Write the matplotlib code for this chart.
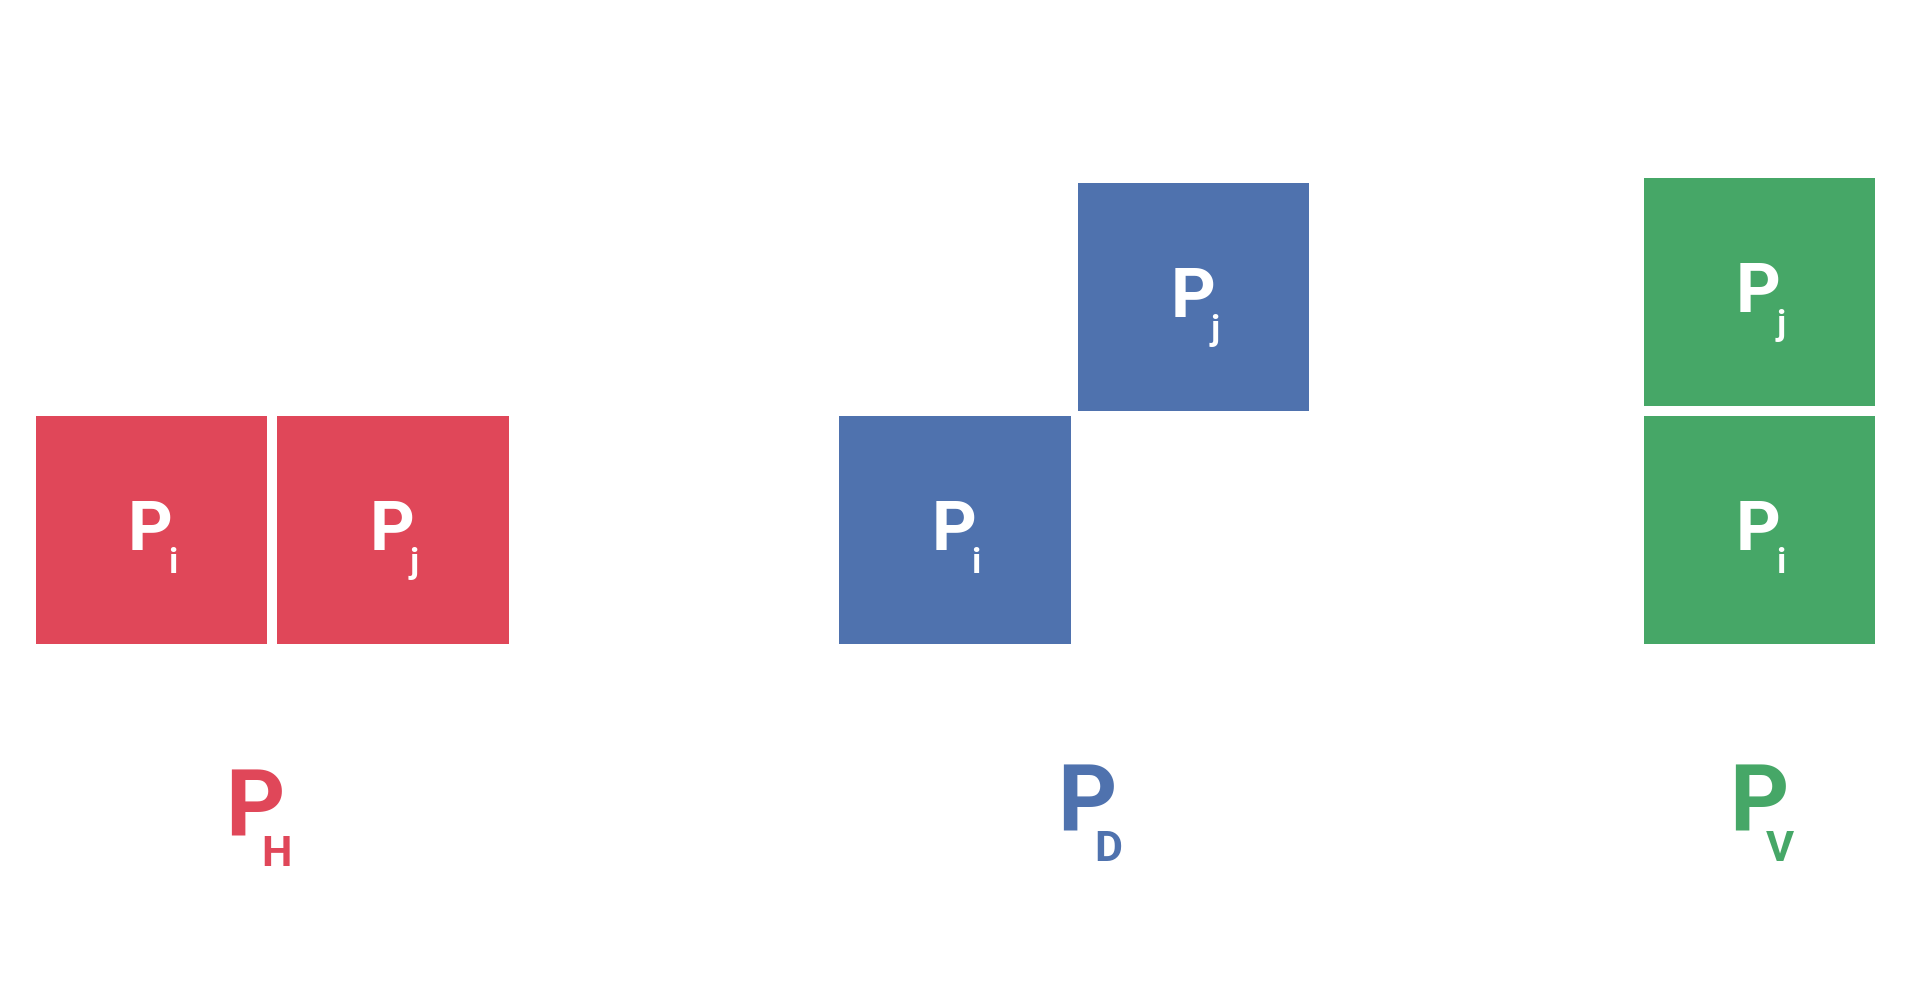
import matplotlib.pyplot as plt
from matplotlib.patches import Rectangle

# Colours per panel
colors = {'H': '#E04759', 'D': '#4F72AE', 'V': '#46A767'}

# Boxes: (panel, subscript, x, y) in reference-pixel units, size 186
boxes = [
    ('H', 'i', 29, 339), ('H', 'j', 223, 339),
    ('D', 'i', 675, 339), ('D', 'j', 867, 149),
    ('V', 'i', 1322, 339), ('V', 'j', 1322, 145),
]
size = 186
panel_labels = [('H', 207, 660), ('D', 876, 656), ('V', 1416, 656)]

W, H = 1552, 800
fig = plt.figure(figsize=(19.30, 9.82), dpi=100)
ax = fig.add_axes([0, 0, 1, 1])
ax.set_xlim(0, W)
ax.set_ylim(H, 0)
ax.axis('off')

font = 'Roboto'
for panel, sub, x, y in boxes:
    ax.add_patch(Rectangle((x, y), size, size, color=colors[panel], lw=0))
    cx, cy = x + size / 2, y + size / 2
    ax.text(cx - 1, cy + 1, 'P', color='white', fontsize=50, fontweight='bold',
            family=font, ha='center', va='center')
    ax.text(cx + 17, cy + 27, sub, color='white', fontsize=25, fontweight='bold',
            family=font, ha='center', va='center')

for panel, x, y in panel_labels:
    ax.text(x - 2, y, 'P', color=colors[panel], fontsize=66, fontweight='bold',
            family=font, ha='center', va='center')
    ax.text(x + 15, y + 36, panel, color=colors[panel], fontsize=31, fontweight='bold',
            family=font, ha='center', va='center')

fig.savefig('out.png', dpi=100)
